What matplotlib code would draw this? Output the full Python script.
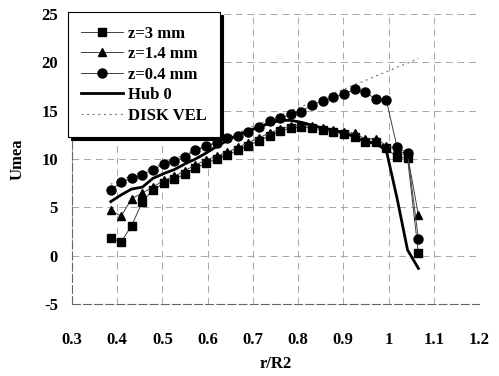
import matplotlib
matplotlib.use('Agg')
import matplotlib.pyplot as plt

# radial stations (r/R2)
r = [0.386, 0.409, 0.432, 0.456, 0.479, 0.503, 0.526, 0.550, 0.573, 0.596,
     0.620, 0.643, 0.667, 0.690, 0.714, 0.737, 0.760, 0.784, 0.807, 0.831,
     0.854, 0.878, 0.901, 0.925, 0.948, 0.972, 0.995, 1.019, 1.042, 1.066]

u_z3 = [1.8, 1.45, 3.1, 5.6, 6.8, 7.5, 7.9, 8.45, 9.1, 9.55,
        10.0, 10.4, 10.9, 11.4, 11.9, 12.4, 12.9, 13.2, 13.3, 13.2,
        13.0, 12.8, 12.6, 12.3, 11.8, 11.8, 11.1, 10.2, 10.1, 0.25]

u_z14 = [4.7, 4.1, 5.9, 6.5, 7.1, 7.8, 8.2, 8.8, 9.4, 9.9,
         10.3, 10.7, 11.2, 11.7, 12.2, 12.7, 13.1, 13.4, 13.5, 13.4,
         13.2, 13.0, 12.8, 12.65, 12.1, 12.1, 11.4, 11.0, 10.4, 4.2]

u_z04 = [6.8, 7.65, 8.0, 8.4, 8.9, 9.45, 9.8, 10.2, 10.9, 11.3,
         11.7, 12.2, 12.4, 12.8, 13.3, 13.9, 14.2, 14.65, 14.9, 15.6,
         16.0, 16.4, 16.7, 17.2, 16.9, 16.2, 16.1, 11.2, 10.6, 1.7]

hub0 = [5.6, 6.3, 6.9, 7.1, 8.0, 8.5, 8.9, 9.5, 10.0, 10.6,
        11.3, 11.9, 12.5, 12.9, 13.3, 13.7, 14.0, 14.0, 13.8, 13.5,
        13.2, 13.0, 12.7, 12.3, 11.8, 11.6, 10.9, 5.9, 0.6, -1.3]

disk_vel = [7.4, 7.8, 8.3, 8.7, 9.1, 9.6, 10.0, 10.5, 10.9, 11.4,
            11.8, 12.3, 12.7, 13.2, 13.6, 14.1, 14.5, 15.0, 15.4, 15.9,
            16.3, 16.8, 17.2, 17.7, 18.1, 18.6, 19.0, 19.5, 19.9, 20.4]

x_ticks = [0.3, 0.4, 0.5, 0.6, 0.7, 0.8, 0.9, 1.0, 1.1, 1.2]
x_labels = ['0.3', '0.4', '0.5', '0.6', '0.7', '0.8', '0.9', '1', '1.1', '1.2']
y_ticks = [-5, 0, 5, 10, 15, 20, 25]

plt.rcParams['font.family'] = 'Liberation Serif'
plt.rcParams['font.weight'] = 'bold'
plt.rcParams['axes.unicode_minus'] = False

fig = plt.figure(figsize=(4.99, 3.76), dpi=100)
ax = fig.add_axes([0.144, 0.191, 0.816, 0.772])

ax.plot(r, u_z3, color='0.25', lw=0.7, marker='s', ms=5.5, mfc='black', mec='black', label='z=3 mm')
ax.plot(r, u_z14, color='0.25', lw=0.7, marker='^', ms=6, mfc='black', mec='black', label='z=1.4 mm')
ax.plot(r, u_z04, color='0.25', lw=0.7, marker='o', ms=6.5, mfc='black', mec='black', label='z=0.4 mm')
ax.plot(r, hub0, color='black', lw=2.0, label='Hub 0')
ax.plot(r, disk_vel, color='0.45', lw=0.9, linestyle=(0, (1.5, 3)), label='DISK VEL', zorder=1)

ax.set_xlim(0.3, 1.2)
ax.set_ylim(-5, 25)
ax.set_xticks(x_ticks)
ax.set_xticklabels(x_labels)
ax.set_yticks(y_ticks)
ax.tick_params(axis='both', length=0, labelsize=12)
ax.tick_params(axis='x', pad=20)
ax.tick_params(axis='y', pad=10)

ax.grid(True, color='0.65', lw=0.7, linestyle=(0, (7, 5)))
for side in ['top', 'right']:
    ax.spines[side].set_visible(False)
for side in ['left', 'bottom']:
    ax.spines[side].set_color('0.4')
    ax.spines[side].set_linewidth(0.8)
    ax.spines[side].set_linestyle((0, (7, 3)))

ax.set_xlabel('r/R2', fontsize=12, fontweight='bold', labelpad=6)
ax.set_ylabel('Umea', fontsize=12, fontweight='bold', labelpad=11)

leg = ax.legend(loc='upper left', bbox_to_anchor=(-0.01, 1.005), borderaxespad=0,
                fontsize=12, frameon=True, fancybox=False, framealpha=1,
                edgecolor='black', handlelength=2.5, handletextpad=0.3,
                labelspacing=0.27, borderpad=0.8,
                shadow={'color': 'black', 'alpha': 1})
leg.get_frame().set_linewidth(0.8)
for t in leg.get_texts():
    t.set_fontweight('bold')

fig.savefig('out.png', dpi=100)
